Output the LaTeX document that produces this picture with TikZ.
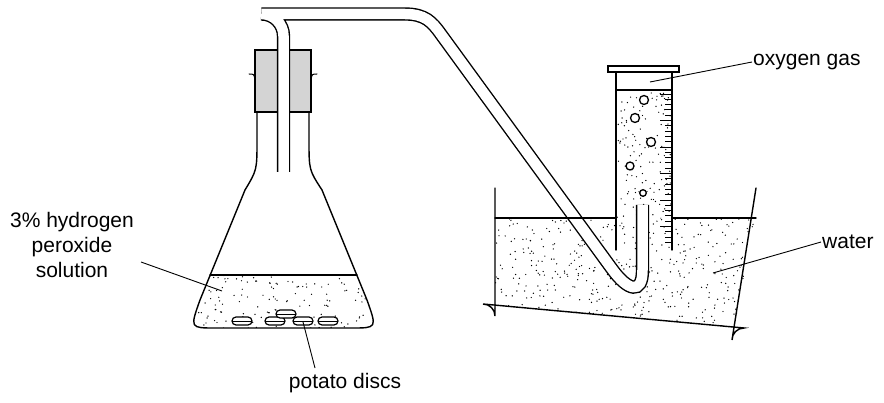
\documentclass[tikz,border=0pt]{standalone}
\usepackage{fontspec}
\setmainfont{Liberation Sans}
\usetikzlibrary{positioning}

\begin{document}
\begin{tikzpicture}[x=1pt, y=-1pt]
\tikzset{glass/.style = {draw=black, line width=1.4pt, line cap=round}}
    \tikzset{lbl/.style = {font=\fontsize{21}{25}\selectfont, align=center, inner sep=1pt}}
    \tikzset{leader/.style = {draw=black, line width=0.9pt}}
    \tikzset{tube/.style = {line width=1.4pt, double=white, double distance=10.5pt}}
\useasboundingbox (0,0) rectangle (884,403);
\pgfmathsetseed{7}
% liquid in the flask
\begin{scope}
\clip (257,112) -- (257,140) .. controls (257,170) .. (245,190) -- (200,300) .. controls (190,328) .. (215,328) -- (352,328) .. controls (377,328) .. (367,300) -- (322,190) .. controls (309,170) .. (309,140) -- (309,112) -- cycle;
\clip (0,275) rectangle (884,403);
\foreach \i in {1,...,140} {\fill ({190+190*rnd},{275+55*rnd}) circle (0.7pt);}
\end{scope}
% water in the beaker and cylinder
\begin{scope}
\clip (495,218) -- (495,316) arc (180:90:-12) -- (744,328) arc (90:0:-12) -- (756,218) -- cycle;
\foreach \i in {1,...,460} {\fill ({495+261*rnd},{218+110*rnd}) circle (0.7pt);}
\end{scope}
\foreach \i in {1,...,130} {\fill ({617+54*rnd},{91+127*rnd}) circle (0.7pt);}
% flask
\draw[glass] (257,112) -- (257,140) .. controls (257,170) .. (245,190) -- (200,300) .. controls (190,328) .. (215,328) -- (352,328) .. controls (377,328) .. (367,300) -- (322,190) .. controls (309,170) .. (309,140) -- (309,112);
\draw[glass] (210,275) -- (357,275);
\draw[glass, line width=1pt] (249,74) .. controls (254,74) .. (255,80);
\draw[glass, line width=1pt] (317,74) .. controls (312,74) .. (311,80);
\node[draw, line width=1.4pt, fill=black!17, minimum width=56pt, minimum height=62pt, inner sep=0pt] (stopper) at (283,81) {};
% potato discs
\foreach \px/\py in {242/321, 275/321, 303/321, 328/321, 286/314}
  {\draw[line width=1.2pt, fill=white, rounded corners=4pt] (\px-10,\py-4) rectangle (\px+10,\py+4);
   \draw[line width=0.9pt] (\px-10,\py) -- (\px+10,\py);}
% delivery tube
\draw[tube] (283.5,172) -- (283.5,36) arc (180:90:-22) -- (405,14) .. controls (425,14) and (432,22) .. (440,33) -- (612,269) .. controls (628,291) and (642.5,295) .. (642.5,270) -- (642.5,205);
% beaker
\draw[glass] (495,188) -- (495,316) arc (180:90:-12) -- (744,328) arc (90:0:-12) -- (756,188);
\draw[glass] (495,218) -- (616,218);
\draw[glass] (672,218) -- (756,218);
% measuring cylinder
\draw[glass] (616,250) -- (616,72);
\draw[glass] (672,250) -- (672,72);
\draw[glass, fill=white] (608,66) rectangle (679,72);
\draw[glass] (616,90) -- (672,90);
\foreach \k in {0,...,28} {\pgfmathsetmacro\len{ifthenelse(mod(\k,5)==0,12,7)}
  \draw[line width=0.8pt] (672,{94+5.3*\k}) -- ({672-\len},{94+5.3*\k});}
\foreach \bx/\by/\br in {644/100/4.5, 635/118/4.5, 651/142/4.5, 630/166/4, 643/193/3.3}
  {\draw[line width=1.3pt, fill=white] (\bx,\by) circle (\br);}
% labels
\node[lbl, anchor=west] (oxygen) at (752,62) {oxygen gas};
\node[lbl, anchor=west] (water) at (821,242) {water};
\node[lbl] (peroxide) at (72,245) {3\% hydrogen\\peroxide\\solution};
\node[lbl] (discs) at (345,383) {potato discs};
\coordinate (oxyEnd) at (650,82);
\coordinate (waterEnd) at (713,273);
\coordinate (perEnd) at (222,291);
\coordinate (discEnd) at (303,322);
\draw[leader] (oxygen.west) -- (oxyEnd);
\draw[leader] (water.west) -- (waterEnd);
\draw[leader] (141,262) -- (perEnd);
\draw[leader] (discs.north) ++(-30,-4) -- (discEnd);
\end{tikzpicture}
\end{document}
